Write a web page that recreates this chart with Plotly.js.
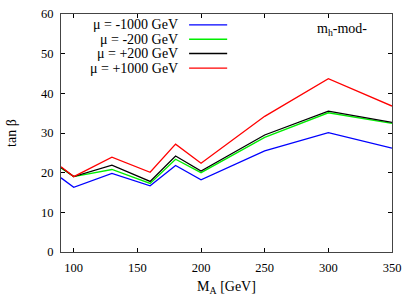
<!DOCTYPE html>
<html><head><meta charset="utf-8">
<script src="https://cdn.plot.ly/plotly-3.0.1.min.js"></script>
<style>html,body{margin:0;padding:0;background:#fff}#c{width:405px;height:298px}</style>
</head><body><div id="c"></div>
<script>
const mA = [90, 100, 130, 160, 180, 200, 250, 300, 350];
const muM1000 = [18.7, 16.3, 19.8, 16.7, 21.8, 18.2, 25.5, 30.1, 26.2];
const muM200 = [21.2, 19.0, 20.8, 17.3, 23.4, 20.0, 28.9, 35.1, 32.4];
const muP200 = [21.3, 19.0, 21.9, 17.8, 24.2, 20.4, 29.5, 35.5, 32.7];
const muP1000 = [21.5, 19.0, 23.9, 20.1, 27.2, 22.4, 34.2, 43.7, 36.8];
const seriesNames = ['\u03bc = -1000 GeV', '\u03bc = -200 GeV', '\u03bc = +200 GeV', '\u03bc = +1000 GeV'];
const seriesValues = [muM1000, muM200, muP200, muP1000];
const colors = ['#0000ff', '#00ee00', '#000000', '#ff0000'];

const fam = '"Liberation Serif", "Times New Roman", serif';
const tickFont = {family: fam, size: 12.5, color: '#000'};
const textFont = {family: fam, size: 14, color: '#000'};
const traces = seriesValues.map((v, i) => ({
  x: mA, y: v, type: 'scatter', mode: 'lines', name: seriesNames[i],
  line: {color: colors[i], width: 1.3}, showlegend: false
}));

const legY = [0.954, 0.894, 0.834, 0.773];
const annotations = seriesNames.map((n, i) => ({
  xref: 'paper', yref: 'paper', x: 0.360, y: legY[i], xanchor: 'right', yanchor: 'middle',
  text: n, showarrow: false, font: textFont
}));
annotations.push({xref: 'paper', yref: 'paper', x: 0.850, y: 0.935, xanchor: 'center', yanchor: 'middle',
  text: 'm<sub>h</sub>-mod-', showarrow: false, font: textFont});
const shapes = colors.map((c, i) => ({
  type: 'line', xref: 'paper', yref: 'paper', x0: 0.387, x1: 0.502, y0: legY[i], y1: legY[i],
  line: {color: c, width: 1.3}
}));

const layout = {
  width: 405, height: 298,
  margin: {l: 61, r: 13, t: 14, b: 46},
  paper_bgcolor: '#fff', plot_bgcolor: '#fff',
  font: textFont,
  showlegend: false,
  xaxis: {
    range: [90, 350], tickvals: [100, 150, 200, 250, 300, 350],
    ticks: 'inside', ticklen: 4, tickcolor: '#000', mirror: 'ticks',
    showline: true, linecolor: '#444', linewidth: 1, showgrid: false, zeroline: false,
    tickfont: tickFont, ticklabelstandoff: 4,
    title: {text: 'M<sub>A</sub> [GeV]', font: textFont, standoff: 7}
  },
  yaxis: {
    range: [0, 60], tickvals: [0, 10, 20, 30, 40, 50, 60],
    ticks: 'inside', ticklen: 4, tickcolor: '#000', mirror: 'ticks',
    showline: true, linecolor: '#444', linewidth: 1, showgrid: false, zeroline: false,
    tickfont: tickFont, ticklabelstandoff: 4,
    title: {text: 'tan \u03b2', font: textFont, standoff: 21}
  },
  annotations: annotations,
  shapes: shapes
};
Plotly.newPlot('c', traces, layout, {displayModeBar: false, staticPlot: true});
</script></body></html>
